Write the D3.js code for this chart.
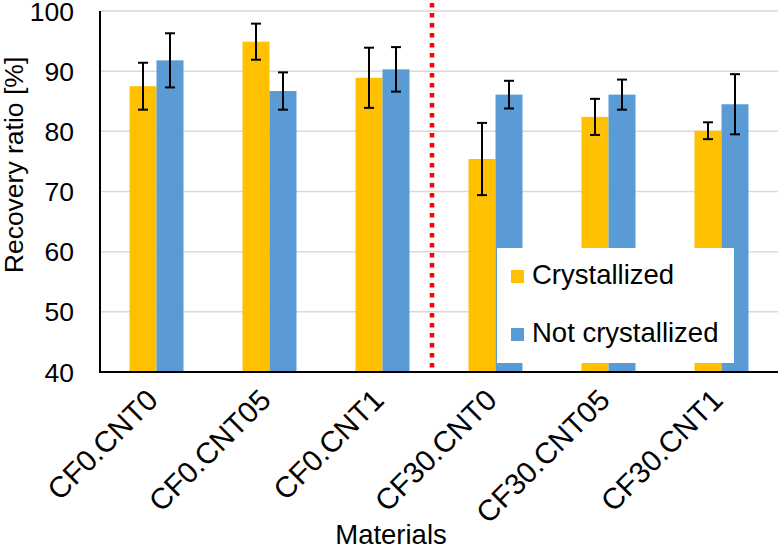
<!DOCTYPE html>
<html><head><meta charset="utf-8">
<script src="https://cdn.jsdelivr.net/npm/d3@7"></script>
<style>body{margin:0;background:#fff}svg{display:block}text{font-family:"Liberation Sans",Arial,sans-serif;fill:#000}</style>
</head><body><svg id="c" width="779" height="550"></svg>
<script>
const categories = ["CF0.CNT0","CF0.CNT05","CF0.CNT1","CF30.CNT0","CF30.CNT05","CF30.CNT1"];
const seriesNames = ["Crystallized","Not crystallized"];
const crystallized = [87.5, 94.9, 88.9, 75.4, 82.4, 80.1];
const crystallizedErr = [3.9, 3.0, 5.0, 6.0, 3.0, 1.4];
const notCrystallized = [91.8, 86.7, 90.3, 86.1, 86.1, 84.5];
const notCrystallizedErr = [4.5, 3.1, 3.7, 2.3, 2.5, 5.0];
const yTicks = [40, 50, 60, 70, 80, 90, 100];
const colors = ["#FFC000", "#5B9BD5"];

const svg = d3.select("#c");
const L = 100, R = 778, T = 11, B = 372;
const x = d3.scaleBand().domain(categories).range([L, R]).padding(0);
const bw = 27;
const xs = d3.scaleBand().domain(seriesNames).range([x.bandwidth()/2 - bw, x.bandwidth()/2 + bw]);
const y = d3.scaleLinear().domain([40, 100]).range([B, T]);

// gridlines
svg.append("g").selectAll("line").data(yTicks.slice(1)).join("line")
  .attr("x1", L).attr("x2", R).attr("y1", d => y(d)).attr("y2", d => y(d))
  .attr("stroke", "#d9d9d9").attr("stroke-width", 1.5);

const data = [
  {name: seriesNames[0], vals: crystallized, err: crystallizedErr, color: colors[0]},
  {name: seriesNames[1], vals: notCrystallized, err: notCrystallizedErr, color: colors[1]}
];

data.forEach(s => {
  const g = svg.append("g");
  g.selectAll("rect").data(categories).join("rect")
    .attr("x", (c) => x(c) + xs(s.name)).attr("width", xs.bandwidth())
    .attr("y", (c, i) => y(s.vals[i])).attr("height", (c, i) => B - y(s.vals[i]))
    .attr("fill", s.color);
});
data.forEach(s => {
  const g = svg.append("g").attr("stroke", "#000").attr("stroke-width", 2);
  categories.forEach((c, i) => {
    const cx = x(c) + xs(s.name) + xs.bandwidth()/2;
    const hi = y(s.vals[i] + s.err[i]), lo = y(s.vals[i] - s.err[i]);
    g.append("line").attr("x1", cx).attr("x2", cx).attr("y1", hi).attr("y2", lo);
    g.append("line").attr("x1", cx-5).attr("x2", cx+5).attr("y1", hi).attr("y2", hi);
    g.append("line").attr("x1", cx-5).attr("x2", cx+5).attr("y1", lo).attr("y2", lo);
  });
});

// axes lines
svg.append("line").attr("x1", L).attr("x2", L).attr("y1", T).attr("y2", B).attr("stroke", "#000").attr("stroke-width", 2);
svg.append("line").attr("x1", L-1).attr("x2", R).attr("y1", B).attr("y2", B).attr("stroke", "#000").attr("stroke-width", 2);

// y tick labels
svg.append("g").selectAll("text").data(yTicks).join("text")
  .attr("x", 74).attr("y", d => y(d)).attr("dy", "0.36em")
  .attr("text-anchor", "end").style("font-size", "26.5px").text(d => d);

// x tick labels
svg.append("g").selectAll("text").data(categories).join("text")
  .attr("text-anchor", "end").style("font-size", "29.5px")
  .attr("transform", c => `translate(${x(c) + x.bandwidth()/2 + 3},${B + 30}) rotate(-45)`)
  .text(c => c);

// divider red dotted line
const divX = (x(categories[2]) + x(categories[3]) + x.bandwidth()) / 2 - 7;
svg.append("line").attr("x1", divX).attr("x2", divX).attr("y1", 3).attr("y2", B)
  .attr("stroke", "#ff0000").attr("stroke-width", 4.5).attr("stroke-dasharray", "4.5,5.5");

// legend
const lg = svg.append("g");
lg.append("rect").attr("x", 497).attr("y", 248).attr("width", 237).attr("height", 115).attr("fill", "#fff");
data.forEach((s, i) => {
  const yy = 284 + i * 58;
  lg.append("rect").attr("x", 511).attr("y", yy - 14).attr("width", 13).attr("height", 13).attr("fill", s.color);
  lg.append("text").attr("x", 532).attr("y", yy).style("font-size", "27.5px").text(s.name);
});

// axis titles
svg.append("text").attr("text-anchor", "middle").style("font-size", "26.5px")
  .attr("transform", "translate(23,165) rotate(-90)").text("Recovery ratio [%]");
svg.append("text").attr("text-anchor", "middle").style("font-size", "27.5px")
  .attr("x", 391).attr("y", 544).text("Materials");
</script></body></html>
